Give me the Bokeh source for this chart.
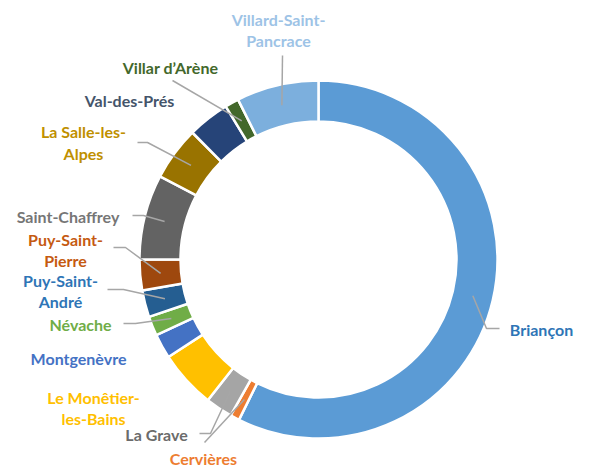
import numpy as np
from bokeh.plotting import figure
from bokeh.models import Range1d, ColumnDataSource
from bokeh.core.properties import value
from bokeh.embed import file_html
from bokeh.resources import INLINE

# ---- data ----
communes = ["Briançon", "Cervières", "La Grave", "Le Monêtier-les-Bains", "Montgenèvre",
            "Névache", "Puy-Saint-André", "Puy-Saint-Pierre", "Saint-Chaffrey",
            "La Salle-les-Alpes", "Val-des-Prés", "Villar d’Arène", "Villard-Saint-Pancrace"]
population = [11810, 172, 504, 1076, 458, 360, 498, 572, 1585, 1001, 778, 258, 1528]
label_texts = ["Briançon", "Cervières", "La Grave", "Le Monêtier-\nles-Bains", "Montgenèvre",
               "Névache", "Puy-Saint-\nAndré", "Puy-Saint-\nPierre", "Saint-Chaffrey",
               "La Salle-les-\nAlpes", "Val-des-Prés", "Villar d’Arène", "Villard-Saint-\nPancrace"]

# ---- styles ----
slice_colors = ["#5B9BD5", "#ED7D31", "#A5A5A5", "#FFC000", "#4472C4", "#70AD47", "#255E91",
                "#9E480E", "#636363", "#997300", "#264478", "#43682B", "#7CAFDD"]
text_colors = ["#2E75B6", "#ED7D31", "#6B6B6B", "#FFC000", "#4472C4", "#70AD47", "#2E75B6",
               "#C55A11", "#767676", "#BF9000", "#44546A", "#43682B", "#9DC3E6"]

# layout (image pixel coordinates)
CX, CY = 318, 259
R_IN, R_OUT = 138, 179
label_pos = [(541, 329), (203, 458), (156, 434), (93, 407.5), (78, 358), (80, 324), (60, 290.5),
             (65, 249.5), (67.5, 216), (83, 142), (129, 100), (170, 67), (278, 29.5)]
# leader line outer points (label side), None = no leader
leader_pts = [[(499, 328), (486, 328)], [(204, 442)], [(199, 433), (210, 433)], None, None,
              [(123, 323), (135, 323)], [(107, 289), (123, 289)], [(113, 247), (125, 247)],
              [(132, 215), (143, 215)], [(137, 142), (147, 142)], None, [(172, 80)], [(282, 55)]]

W, H = 588, 470

def fy(y):
    return 470 - y

vals = np.array(population, dtype=float)
frac = vals / vals.sum()
cum = np.concatenate([[0.0], np.cumsum(frac)]) * 2 * np.pi  # clockwise from top
start = np.pi / 2 - cum[:-1]
end = np.pi / 2 - cum[1:]
mid = (cum[:-1] + cum[1:]) / 2

src = ColumnDataSource(dict(start=start, end=end, color=slice_colors, name=communes))

p = figure(width=W, height=H, x_range=Range1d(0, W), y_range=Range1d(470 - H, 470),
           output_backend="svg", toolbar_location=None, min_border=0)
p.axis.visible = False
p.grid.visible = False
p.outline_line_color = None
p.background_fill_color = "white"

p.annular_wedge(x=CX, y=fy(CY), inner_radius=R_IN, outer_radius=R_OUT,
                start_angle="start", end_angle="end", direction="clock",
                fill_color="color", line_color="white", line_width=2.5, source=src)

# leader lines
xs, ys = [], []
rm = (R_IN + R_OUT) / 2
for i, pts in enumerate(leader_pts):
    if pts is None:
        continue
    ax = CX + rm * np.sin(mid[i])
    ay = CY - rm * np.cos(mid[i])
    xs.append([q[0] for q in pts] + [ax])
    ys.append([fy(q[1]) for q in pts] + [fy(ay)])
p.multi_line(xs=xs, ys=ys, line_color="#A6A6A6", line_width=1.5)

tsrc = ColumnDataSource(dict(x=[q[0] for q in label_pos], y=[fy(q[1]) for q in label_pos],
                             text=label_texts, color=text_colors))
p.text(x="x", y="y", text="text", source=tsrc, text_color="color",
       text_font=value("Lato"), text_font_style="bold", text_font_size="16px",
       text_align="center", text_baseline="middle", text_line_height=1.15)

open("out.html", "w").write(file_html(p, INLINE))
